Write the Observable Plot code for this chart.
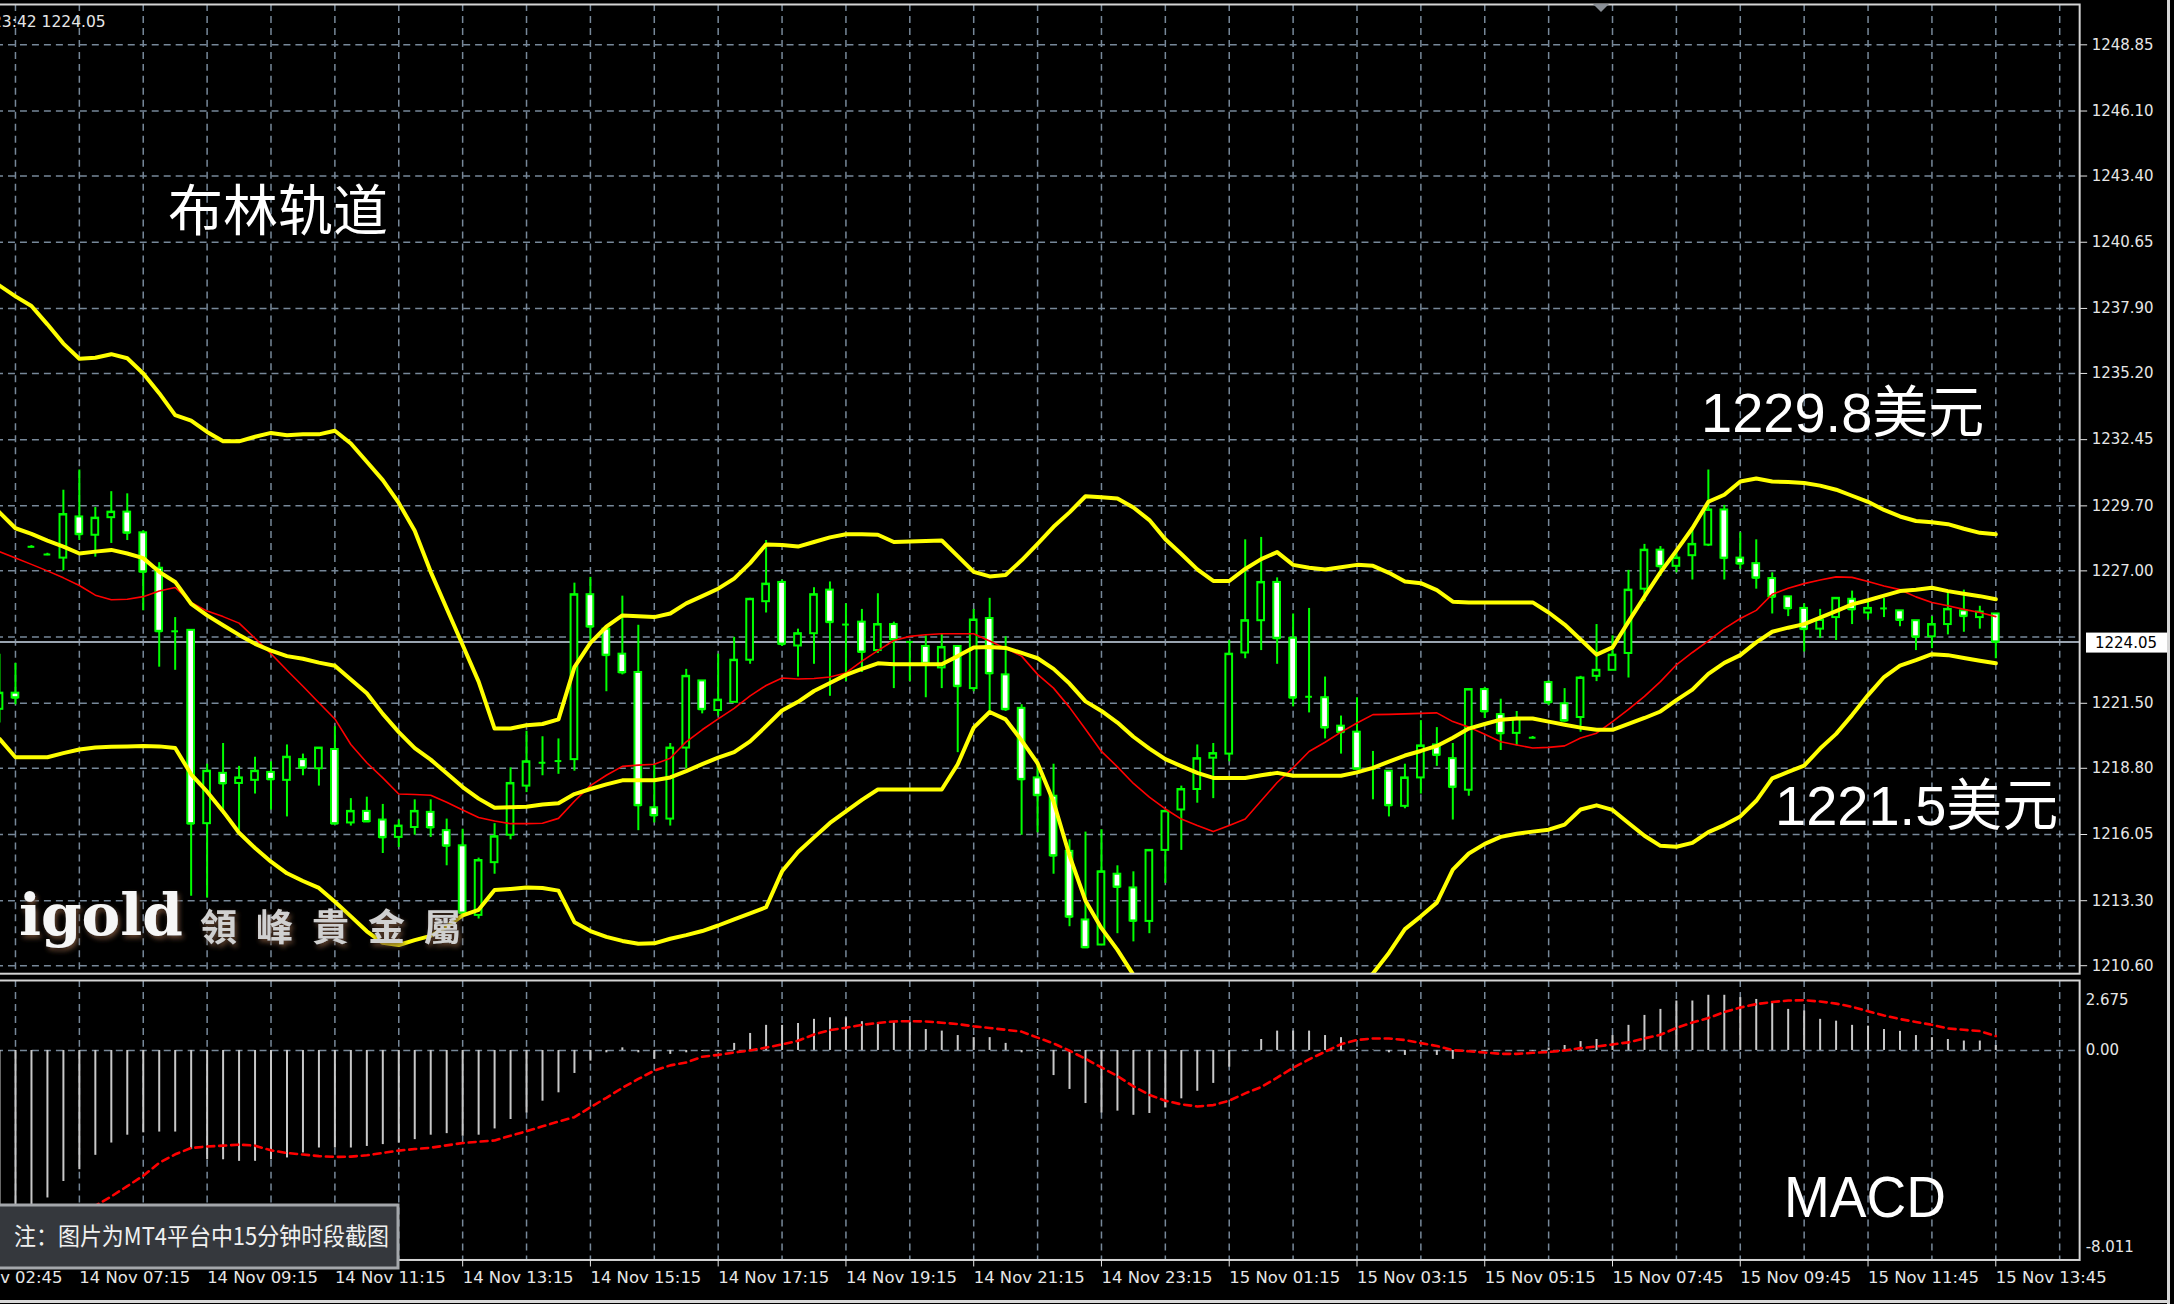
<!DOCTYPE html>
<html><head><meta charset="utf-8">
<script src="https://cdn.jsdelivr.net/npm/d3@7"></script>
<script src="https://cdn.jsdelivr.net/npm/@observablehq/plot@0.6"></script>
<style>
html,body{margin:0;padding:0;background:#000;}
#wrap{position:relative;width:2174px;height:1304px;overflow:hidden;background:#000;}
#wrap svg{position:absolute;}
</style></head><body><div id="wrap"></div>
<script>
// ---------------- DATA (XAUUSD M15) ----------------
const opens = [1221.25,1221.92,1228.00,1227.68,1227.53,1229.24,1228.48,1229.21,1229.44,1228.58,
1227.11,1224.49,1224.53,1216.50,1218.59,1218.17,1218.30,1218.63,1218.30,1219.16,
1218.78,1219.58,1216.53,1217.01,1216.65,1215.93,1216.34,1216.97,1216.21,1215.58,
1212.69,1214.88,1216.02,1218.06,1219.03,1219.10,1219.16,1226.01,1224.58,1223.54,
1222.78,1217.16,1216.69,1219.64,1222.43,1221.20,1221.54,1223.29,1225.72,1226.52,
1223.88,1224.39,1226.20,1224.77,1224.87,1223.69,1224.77,1224.05,1223.86,1222.97,
1223.86,1222.11,1225.02,1222.68,1221.29,1218.40,1217.64,1215.35,1212.50,1211.46,
1214.40,1213.83,1212.44,1215.39,1217.07,1217.92,1219.22,1219.39,1223.59,1224.93,
1226.52,1224.20,1221.77,1221.73,1220.55,1220.30,1218.78,1218.68,1217.22,1218.40,
1219.77,1219.20,1217.89,1222.07,1221.03,1220.25,1220.07,1222.36,1221.48,1220.91,
1222.62,1222.87,1223.57,1226.24,1227.86,1227.19,1227.63,1228.07,1229.53,1227.53,
1227.30,1226.68,1225.92,1225.44,1224.58,1225.06,1225.82,1225.25,1225.44,1225.34,
1224.93,1224.26,1224.77,1225.34,1225.06,1225.21];
const highs = [1223.54,1223.16,1228.05,1227.73,1230.35,1231.19,1229.63,1230.29,1230.20,1228.67,
1227.34,1225.06,1224.53,1218.97,1219.83,1218.88,1219.26,1219.07,1219.77,1219.39,
1219.64,1220.53,1217.54,1217.60,1217.30,1216.65,1217.49,1217.49,1216.69,1216.27,
1215.07,1216.50,1218.82,1220.34,1220.11,1220.02,1226.49,1226.73,1224.68,1225.95,
1224.74,1218.97,1219.83,1222.91,1222.43,1223.54,1224.24,1225.86,1228.26,1226.62,
1224.58,1226.30,1226.54,1225.63,1225.40,1226.05,1224.87,1224.05,1224.30,1224.39,
1223.86,1225.40,1225.86,1224.26,1221.44,1218.88,1218.97,1215.83,1216.15,1216.25,
1214.75,1214.50,1215.39,1217.01,1218.06,1219.77,1219.83,1224.11,1228.29,1228.39,
1226.71,1225.21,1225.44,1222.59,1220.97,1221.73,1219.50,1218.68,1218.97,1220.78,
1220.49,1219.83,1222.07,1222.15,1221.67,1221.16,1220.12,1222.43,1222.11,1222.62,
1224.77,1224.30,1227.02,1228.10,1228.01,1227.82,1228.71,1231.19,1229.72,1228.58,
1228.29,1226.92,1225.92,1225.63,1225.40,1225.86,1226.16,1225.82,1225.86,1225.34,
1224.93,1225.10,1226.16,1226.20,1225.53,1225.21];
const lows = [1220.68,1221.44,1227.95,1227.63,1227.00,1228.26,1227.57,1228.14,1228.26,1225.34,
1223.00,1222.87,1213.49,1213.41,1216.88,1216.21,1217.73,1217.07,1216.78,1218.49,
1218.06,1216.50,1216.40,1216.59,1215.26,1215.51,1216.02,1215.93,1214.75,1212.79,
1212.54,1214.40,1215.83,1217.79,1218.49,1218.55,1218.68,1224.11,1221.98,1222.68,
1216.21,1216.53,1216.40,1218.78,1221.06,1220.97,1221.54,1223.12,1225.25,1223.86,
1222.59,1223.12,1221.79,1222.40,1222.78,1223.57,1222.11,1222.40,1221.73,1222.11,
1219.45,1221.98,1221.16,1221.16,1216.02,1216.12,1214.40,1212.22,1211.36,1211.46,
1211.93,1211.59,1211.93,1214.02,1215.39,1217.35,1217.54,1219.07,1223.35,1223.69,
1223.12,1221.35,1221.10,1220.02,1219.39,1218.74,1217.49,1216.78,1217.12,1217.73,
1218.88,1216.65,1217.64,1220.87,1219.54,1219.73,1220.02,1221.41,1220.72,1220.30,
1222.40,1222.87,1222.55,1225.72,1226.77,1226.92,1226.62,1228.01,1226.62,1227.06,
1226.24,1225.21,1225.10,1223.63,1224.20,1224.11,1224.77,1224.96,1225.06,1224.68,
1223.69,1223.77,1224.34,1224.45,1224.58,1223.35];
const closes = [1221.92,1221.73,1228.00,1227.68,1229.34,1228.52,1229.19,1229.44,1228.58,1226.96,
1224.49,1224.49,1216.50,1218.68,1218.17,1218.40,1218.68,1218.34,1219.26,1218.82,
1219.64,1216.50,1217.01,1216.59,1215.93,1216.40,1217.01,1216.34,1215.58,1212.79,
1214.97,1215.96,1218.17,1219.07,1219.03,1219.10,1226.01,1224.68,1223.50,1222.78,
1217.26,1216.84,1219.64,1222.62,1221.25,1221.63,1223.29,1225.82,1226.45,1223.96,
1224.39,1226.01,1224.87,1224.77,1223.63,1224.77,1224.15,1224.05,1223.16,1223.82,
1222.21,1224.96,1222.74,1221.25,1218.34,1217.68,1215.17,1212.63,1211.36,1214.50,
1213.87,1212.46,1215.39,1217.01,1217.92,1219.20,1219.41,1223.54,1224.93,1226.52,
1224.20,1221.73,1221.77,1220.49,1220.30,1218.78,1218.78,1217.26,1218.40,1219.73,
1219.35,1218.02,1222.07,1221.16,1220.25,1220.87,1220.07,1221.54,1220.78,1222.55,
1222.87,1223.50,1226.20,1227.86,1227.19,1227.53,1228.10,1229.53,1227.53,1227.30,
1226.71,1225.92,1225.44,1224.58,1224.96,1225.86,1225.40,1225.44,1225.44,1224.96,
1224.26,1224.77,1225.40,1225.12,1225.29,1224.05];
// Bollinger bands (yellow) and the thin red moving average
const bandUpper = [1238.85,1238.40,1238.00,1237.24,1236.44,1235.81,1235.85,1236.00,1235.83,1235.20,
1234.38,1233.47,1233.24,1232.77,1232.38,1232.38,1232.57,1232.73,1232.63,1232.67,
1232.67,1232.82,1232.29,1231.53,1230.77,1229.82,1228.67,1226.96,1225.44,1223.92,
1222.40,1220.45,1220.45,1220.59,1220.64,1220.83,1223.00,1224.01,1224.68,1225.15,
1225.12,1225.08,1225.23,1225.65,1225.95,1226.26,1226.68,1227.32,1228.10,1228.07,
1228.01,1228.20,1228.39,1228.52,1228.52,1228.50,1228.20,1228.22,1228.24,1228.26,
1227.61,1226.96,1226.77,1226.83,1227.44,1228.12,1228.83,1229.43,1230.10,1230.06,
1230.01,1229.63,1229.11,1228.31,1227.70,1227.06,1226.58,1226.58,1227.08,1227.49,
1227.78,1227.25,1227.13,1227.06,1227.15,1227.25,1227.21,1226.92,1226.56,1226.49,
1226.20,1225.72,1225.69,1225.69,1225.69,1225.69,1225.69,1225.27,1224.77,1224.15,
1223.52,1223.82,1224.89,1225.93,1226.94,1227.84,1228.77,1229.87,1230.16,1230.71,
1230.84,1230.71,1230.69,1230.65,1230.54,1230.37,1230.12,1229.87,1229.53,1229.26,
1229.07,1229.02,1228.94,1228.75,1228.58,1228.52];
const bandMiddle = [1229.43,1228.77,1228.54,1228.26,1228.01,1227.72,1227.80,1227.87,1227.72,1227.53,
1226.96,1226.54,1225.63,1225.15,1224.74,1224.34,1223.97,1223.69,1223.46,1223.35,
1223.19,1223.06,1222.49,1221.92,1221.06,1220.30,1219.64,1219.16,1218.59,1218.02,
1217.54,1217.16,1217.18,1217.20,1217.30,1217.35,1217.73,1217.94,1218.13,1218.30,
1218.30,1218.30,1218.42,1218.68,1218.97,1219.24,1219.47,1219.92,1220.55,1221.20,
1221.56,1222.01,1222.34,1222.68,1222.93,1223.16,1223.12,1223.12,1223.12,1223.12,
1223.46,1223.82,1223.84,1223.80,1223.59,1223.37,1222.93,1222.32,1221.58,1221.18,
1220.70,1220.11,1219.62,1219.18,1218.89,1218.61,1218.40,1218.40,1218.40,1218.51,
1218.61,1218.49,1218.49,1218.49,1218.49,1218.63,1218.82,1219.08,1219.33,1219.52,
1219.73,1220.07,1220.45,1220.64,1220.82,1220.87,1220.87,1220.74,1220.61,1220.49,
1220.40,1220.40,1220.64,1220.89,1221.16,1221.63,1222.07,1222.72,1223.18,1223.50,
1224.03,1224.47,1224.64,1224.79,1225.06,1225.33,1225.61,1225.78,1225.97,1226.16,
1226.22,1226.30,1226.16,1226.05,1225.95,1225.82];
const bandLower = [1220.02,1219.26,1219.26,1219.26,1219.43,1219.58,1219.66,1219.69,1219.71,1219.73,
1219.71,1219.64,1218.55,1217.83,1217.01,1216.12,1215.49,1214.92,1214.44,1214.12,
1213.83,1213.26,1212.65,1212.03,1211.55,1211.46,1211.66,1211.84,1212.22,1212.69,
1212.92,1213.74,1213.79,1213.85,1213.83,1213.72,1212.41,1212.04,1211.80,1211.63,
1211.51,1211.53,1211.72,1211.87,1212.04,1212.27,1212.52,1212.77,1213.03,1214.52,
1215.32,1215.93,1216.53,1217.01,1217.49,1217.92,1217.92,1217.92,1217.92,1217.92,
1218.97,1220.49,1221.14,1220.83,1219.96,1219.01,1217.41,1215.17,1213.30,1212.16,
1211.26,1210.22,1209.30,1208.50,1207.80,1207.30,1207.00,1206.90,1207.00,1207.20,
1207.50,1207.80,1208.20,1208.60,1209.10,1209.70,1210.28,1211.13,1212.12,1212.65,
1213.22,1214.59,1215.26,1215.66,1215.95,1216.08,1216.17,1216.25,1216.46,1217.09,
1217.26,1217.07,1216.53,1216.00,1215.58,1215.54,1215.70,1216.15,1216.44,1216.80,
1217.45,1218.38,1218.65,1218.91,1219.62,1220.23,1221.01,1221.84,1222.59,1223.06,
1223.29,1223.54,1223.50,1223.38,1223.27,1223.16];
const redMA = [1227.80,1227.53,1227.27,1227.00,1226.71,1226.39,1225.99,1225.80,1225.82,1225.93,
1226.16,1226.31,1225.69,1225.33,1225.10,1224.83,1224.20,1223.56,1222.87,1222.21,
1221.52,1220.85,1219.79,1219.03,1218.40,1217.73,1217.71,1217.68,1217.39,1217.07,
1216.76,1216.61,1216.50,1216.50,1216.52,1216.72,1217.43,1218.08,1218.51,1218.88,
1218.93,1218.97,1219.22,1219.90,1220.40,1220.85,1221.29,1221.81,1222.24,1222.55,
1222.51,1222.53,1222.59,1222.76,1223.25,1223.69,1224.11,1224.28,1224.35,1224.39,
1224.39,1224.39,1224.09,1223.78,1223.46,1222.70,1222.13,1221.33,1220.42,1219.50,
1218.86,1218.17,1217.60,1217.11,1216.69,1216.42,1216.17,1216.42,1216.69,1217.45,
1218.21,1218.82,1219.50,1219.88,1220.30,1220.68,1221.03,1221.04,1221.06,1221.08,
1221.10,1220.74,1220.51,1220.21,1219.90,1219.77,1219.64,1219.67,1219.73,1220.06,
1220.26,1220.74,1221.25,1221.79,1222.40,1223.10,1223.61,1224.09,1224.60,1225.02,
1225.36,1226.03,1226.28,1226.47,1226.62,1226.75,1226.73,1226.56,1226.37,1226.22,
1225.92,1225.69,1225.55,1225.40,1225.27,1225.10];
// MACD (histogram = main line, dashed red = signal)
const macdHist = [-7.4,-6.9,-6.3,-5.64,-5.01,-4.56,-4.01,-3.54,-3.24,-3.15,
-3.12,-3.12,-3.79,-4.18,-4.18,-4.24,-4.24,-4.18,-4.11,-3.92,
-3.73,-3.73,-3.73,-3.67,-3.60,-3.54,-3.41,-3.24,-3.18,-3.28,
-3.24,-3.00,-2.64,-2.39,-1.94,-1.62,-0.88,-0.41,-0.09,0.10,
-0.09,-0.34,-0.15,-0.09,-0.04,-0.04,0.27,0.65,0.96,0.96,
1.03,1.19,1.25,1.25,1.10,1.06,1.06,1.06,0.80,0.74,
0.57,0.49,0.49,0.27,-0.09,0.04,-0.96,-1.49,-2.03,-2.39,
-2.32,-2.48,-2.41,-2.20,-1.85,-1.56,-1.26,-0.64,-0.03,0.42,
0.74,0.74,0.74,0.57,0.49,0.04,0.01,-0.09,-0.19,-0.03,
-0.19,-0.34,-0.03,-0.03,-0.01,-0.01,-0.03,0.09,0.19,0.34,
0.42,0.57,0.96,1.34,1.57,1.89,1.89,2.11,2.11,2.02,
1.95,1.83,1.57,1.51,1.19,1.12,0.96,0.93,0.80,0.73,
0.57,0.49,0.42,0.36,0.36,0.19];
const macdSignal = [-8.01,-7.88,-7.56,-7.18,-6.79,-6.35,-5.94,-5.58,-5.19,-4.79,
-4.30,-3.97,-3.73,-3.67,-3.64,-3.60,-3.64,-3.82,-3.92,-3.98,
-4.04,-4.07,-4.06,-4.01,-3.92,-3.83,-3.77,-3.72,-3.63,-3.54,
-3.49,-3.44,-3.26,-3.09,-2.90,-2.72,-2.55,-2.17,-1.81,-1.43,
-1.09,-0.77,-0.57,-0.46,-0.24,-0.17,-0.08,0.00,0.11,0.23,
0.37,0.61,0.78,0.87,0.98,1.05,1.11,1.12,1.11,1.06,
1.01,0.92,0.86,0.79,0.72,0.49,0.27,-0.01,-0.32,-0.65,
-0.98,-1.37,-1.70,-1.92,-2.06,-2.14,-2.09,-1.92,-1.64,-1.40,
-1.04,-0.66,-0.34,-0.05,0.24,0.40,0.46,0.46,0.40,0.28,
0.17,0.01,-0.03,-0.08,-0.13,-0.13,-0.09,-0.06,0.00,0.09,
0.15,0.23,0.31,0.46,0.60,0.86,1.07,1.24,1.47,1.64,
1.77,1.85,1.91,1.92,1.87,1.79,1.67,1.50,1.34,1.20,
1.09,0.98,0.84,0.79,0.74,0.55];
// axes
const priceTickValues = [1248.85,1246.10,1243.40,1240.65,1237.90,1235.20,1232.45,1229.70,1227.00,1221.50,1218.80,1216.05,1213.30,1210.60];
const priceGridValues = [...priceTickValues, 1224.25]; // this grid label sits under the current-price box
const priceDomain = [1210.268, 1250.525];
const currentPrice = 1224.05;
const macdDomain = [-8.011, 2.675];
const macdTickValues = [2.675, 0, -8.011];
const macdTickLabels = ["2.675", "0.00", "-8.011"];
const timeTickBars = [-3,5,13,21,29,37,45,53,61,69,77,85,93,101,109,117,125];
const timeTickLabels = ["14 Nov 02:45","14 Nov 07:15","14 Nov 09:15","14 Nov 11:15","14 Nov 13:15","14 Nov 15:15","14 Nov 17:15","14 Nov 19:15","14 Nov 21:15","14 Nov 23:15","15 Nov 01:15","15 Nov 03:15","15 Nov 05:15","15 Nov 07:45","15 Nov 09:45","15 Nov 11:45","15 Nov 13:45"];

// ---------------- LAYOUT ----------------
const PAGE_W = 2174, PAGE_H = 1304, SHIFT = 4, PLOT_RIGHT = 2083, BAR_PX = 16;
const svgW = PAGE_W + SHIFT;
const mRight = svgW - (PLOT_RIGHT + SHIFT);
const xDomain = [(-SHIFT + 1) / BAR_PX, (PLOT_RIGHT + 1) / BAR_PX];
const PRICE_H = 977, MACD_TOP = 977, MACD_H = PAGE_H - MACD_TOP;

const N = opens.length;
const bars = d3.range(N).map(i => ({i, open: opens[i], high: highs[i], low: lows[i], close: closes[i],
  upper: bandUpper[i], middle: bandMiddle[i], lower: bandLower[i], ma: redMA[i],
  hist: macdHist[i], signal: macdSignal[i], bull: closes[i] > opens[i]}));
const xGrid = d3.range(1, 131, 4);
const BODY = 0.21;
const GREEN = "#00ff00", YELLOW = "#ffff00", GRID = "#778899";
const gridStyle = {stroke: GRID, strokeOpacity: 1, strokeWidth: 1.5, strokeDasharray: "7,5"};
const svgStyle = {background: "#000", color: "#e6e6e6", fontFamily: "DejaVu Sans, Verdana, sans-serif", overflow: "visible"};

const priceChart = Plot.plot({
  width: svgW, height: PRICE_H,
  marginLeft: 0, marginRight: mRight, marginTop: 4, marginBottom: 2,
  style: svgStyle,
  x: {domain: xDomain, axis: null},
  y: {domain: priceDomain},
  marks: [
    Plot.gridX(xGrid, gridStyle),
    Plot.gridY(priceGridValues, gridStyle),
    Plot.ruleY([currentPrice], {stroke: "#9aa4b0", strokeWidth: 2}),
    Plot.ruleX(bars, {x: "i", y1: "low", y2: "high", stroke: GREEN, strokeWidth: 2}),
    Plot.rect(bars.filter(d => d.bull), {x1: d => d.i - BODY, x2: d => d.i + BODY, y1: "open", y2: "close", fill: "#000", stroke: GREEN, strokeWidth: 2}),
    Plot.rect(bars.filter(d => !d.bull), {x1: d => d.i - BODY, x2: d => d.i + BODY, y1: "open", y2: "close", fill: "#fff", stroke: GREEN, strokeWidth: 2}),
    Plot.ruleY(bars, {x1: d => d.i - BODY, x2: d => d.i + BODY, y: "close", stroke: GREEN, strokeWidth: 2}),
    Plot.line(bars, {x: "i", y: "ma", stroke: "#ff0000", strokeWidth: 1.6, clip: true}),
    Plot.line(bars, {x: "i", y: "upper", stroke: YELLOW, strokeWidth: 4, strokeLinejoin: "round", clip: true}),
    Plot.line(bars, {x: "i", y: "middle", stroke: YELLOW, strokeWidth: 4, strokeLinejoin: "round", clip: true}),
    Plot.line(bars, {x: "i", y: "lower", stroke: YELLOW, strokeWidth: 4, strokeLinejoin: "round", clip: true}),
    Plot.frame({stroke: "#d4d4d4", strokeWidth: 2}),
    Plot.axisY(priceTickValues, {anchor: "right", label: null, tickSize: 7, tickPadding: 5, fontSize: 15, tickFormat: d => d.toFixed(2)})
  ]
});

const macdChart = Plot.plot({
  width: svgW, height: MACD_H,
  marginLeft: 0, marginRight: mRight, marginTop: 3, marginBottom: 44,
  style: svgStyle,
  x: {domain: xDomain},
  y: {domain: macdDomain},
  marks: [
    Plot.gridX(xGrid, gridStyle),
    Plot.gridY([0], gridStyle),
    Plot.ruleX(bars, {x: "i", y1: 0, y2: "hist", stroke: "#c8c8c8", strokeWidth: 2}),
    Plot.line(bars, {x: "i", y: "signal", stroke: "#ff0000", strokeWidth: 2.6, strokeDasharray: "7,5"}),
    Plot.frame({stroke: "#d4d4d4", strokeWidth: 2}),
    Plot.axisY([macdTickValues[1]], {anchor: "right", label: null, tickSize: 0, tickPadding: 6, fontSize: 15, tickFormat: () => macdTickLabels[1]}),
    Plot.axisY([macdTickValues[0]], {anchor: "right", label: null, tickSize: 0, tickPadding: 6, fontSize: 15, dy: 20, tickFormat: () => macdTickLabels[0]}),
    Plot.axisY([macdTickValues[2]], {anchor: "right", label: null, tickSize: 0, tickPadding: 6, fontSize: 15, dy: -13, tickFormat: () => macdTickLabels[2]}),
    Plot.axisX(timeTickBars, {anchor: "bottom", label: null, tickSize: 7, tickPadding: 4, fontSize: 16.5, textAnchor: "start", dx: 0,
      tickFormat: d => timeTickLabels[timeTickBars.indexOf(d)]})
  ]
});

const wrap = d3.select("#wrap");
d3.select(priceChart).style("left", -SHIFT + "px").style("top", "0px");
d3.select(macdChart).style("left", -SHIFT + "px").style("top", MACD_TOP + "px");
wrap.node().appendChild(priceChart);
wrap.node().appendChild(macdChart);

// ---------------- TEXT OVERLAY ----------------
const ov = wrap.append("svg").attr("width", PAGE_W).attr("height", PAGE_H).style("left", "0px").style("top", "0px");
const defs = ov.append("defs");
defs.append("filter").attr("id", "wm").attr("x", "-10%").attr("y", "-20%").attr("width", "130%").attr("height", "150%")
  .append("feDropShadow").attr("dx", 2).attr("dy", 3).attr("stdDeviation", 2.5).attr("flood-color", "#6b4a33").attr("flood-opacity", 0.95);

const CJK = "'Noto Sans CJK SC', 'Noto Sans', sans-serif";
const LAT = "'Liberation Sans', Arial, 'Noto Sans CJK SC', sans-serif";

ov.append("text").attr("x", -8).attr("y", 27).attr("fill", "#e6e6e6").attr("font-family", "DejaVu Sans").attr("font-size", 15.5).text("23:42 1224.05");
ov.append("polygon").attr("points", "1593,4 1609,4 1601,12").attr("fill", "#8a8f96");

ov.append("text").attr("x", 168).attr("y", 230).attr("fill", "#fff").attr("font-family", CJK).attr("font-size", 55).text("布林轨道");
ov.append("text").attr("x", 1701).attr("y", 432).attr("fill", "#fff").attr("font-family", LAT).attr("font-size", 56).text("1229.8美元");
ov.append("text").attr("x", 1775).attr("y", 825).attr("fill", "#fff").attr("font-family", LAT).attr("font-size", 56).text("1221.5美元");
ov.append("text").attr("x", 1784).attr("y", 1217).attr("fill", "#fff").attr("font-family", LAT).attr("font-size", 58)
  .attr("textLength", 162).attr("lengthAdjust", "spacingAndGlyphs").text("MACD");

// watermark
ov.append("text").attr("x", 19).attr("y", 935).attr("fill", "#f6f6f6").attr("font-family", "'DejaVu Serif', 'Liberation Serif', serif")
  .attr("font-weight", "bold").attr("font-size", 58).attr("filter", "url(#wm)").text("igold");
ov.append("text").attr("x", 200).attr("y", 941).attr("fill", "#d0d0d0").attr("font-family", "'Noto Sans CJK TC', 'Noto Sans CJK SC', sans-serif")
  .attr("font-weight", "bold").attr("font-size", 37).attr("letter-spacing", 19).attr("filter", "url(#wm)").text("領峰貴金屬");

// note box
ov.append("rect").attr("x", -3).attr("y", 1205).attr("width", 401).attr("height", 63).attr("fill", "#35383d").attr("stroke", "#a4a7ab").attr("stroke-width", 3);
ov.append("text").attr("x", 14).attr("y", 1245).attr("fill", "#f0f0f0").attr("font-family", CJK).attr("font-size", 24)
  .attr("textLength", 375).attr("lengthAdjust", "spacingAndGlyphs").text("注：图片为MT4平台中15分钟时段截图");

// current price box, placed with the price chart's own y scale
const yNow = priceChart.scale("y").apply(currentPrice);
ov.append("rect").attr("x", 2086).attr("y", yNow - 10).attr("width", 81).attr("height", 20).attr("fill", "#fff");
ov.append("text").attr("x", 2126).attr("y", yNow + 5.5).attr("text-anchor", "middle").attr("fill", "#000")
  .attr("font-family", "DejaVu Sans").attr("font-size", 15).text(currentPrice.toFixed(2));

// window borders
ov.append("rect").attr("x", 2167).attr("y", 0).attr("width", 3).attr("height", PAGE_H).attr("fill", "#d8d8d8");
ov.append("rect").attr("x", 0).attr("y", 1300).attr("width", 2170).attr("height", 3).attr("fill", "#d8d8d8");
</script></body></html>
